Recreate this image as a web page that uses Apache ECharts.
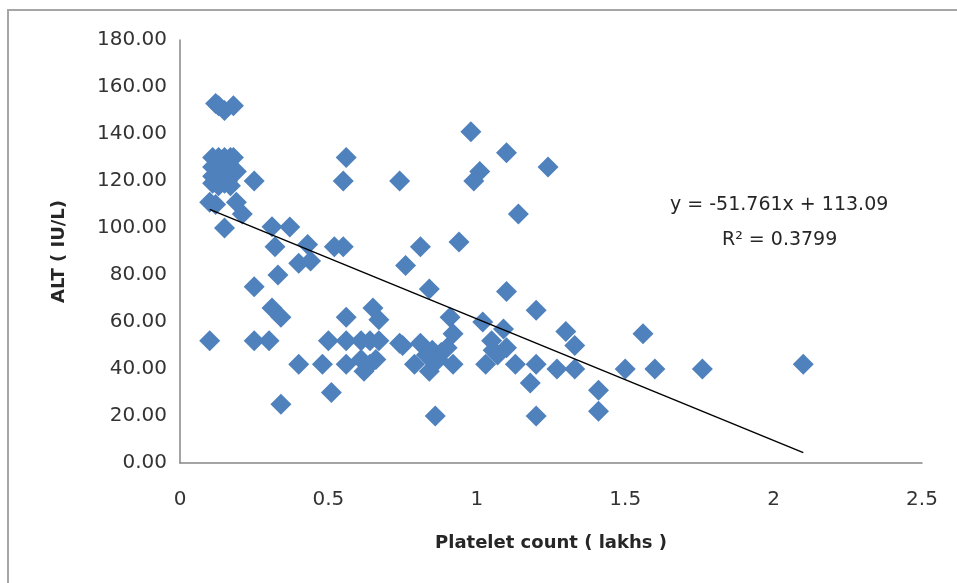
<!DOCTYPE html>
<html>
<head>
<meta charset="utf-8">
<script src="https://cdn.jsdelivr.net/npm/echarts@6/dist/echarts.min.js"></script>
<style>
  html, body { margin: 0; padding: 0; background: #fff; }
  #main { width: 957px; height: 583px; }
</style>
</head>
<body>
<div id="main"></div>
<script>
// platelet count (lakhs) vs ALT (IU/L)
const platelet = [
  0.12, 0.13, 0.15, 0.18,
  0.11, 0.13, 0.15, 0.17, 0.18,
  0.11, 0.13, 0.15, 0.17, 0.19,
  0.11, 0.13, 0.15, 0.16,
  0.11, 0.13, 0.15, 0.17,
  0.25,
  0.10, 0.12, 0.19, 0.21, 0.15,
  0.31, 0.37, 0.32, 0.43, 0.52, 0.55, 0.40, 0.44,
  0.33, 0.25, 0.31, 0.34,
  0.56, 0.55, 0.74,
  0.98, 1.10, 1.24, 1.01, 0.99,
  1.14, 0.94, 0.81, 0.76, 0.84, 1.10, 1.20,
  0.56, 0.65, 0.67, 0.91, 1.02, 1.09, 1.30, 1.33, 0.92,
  0.10, 0.25, 0.30, 0.50, 0.56, 0.61, 0.64, 0.67, 0.74, 0.75,
  0.81, 0.85, 0.88, 0.90, 0.83, 0.87,
  1.05, 1.055, 1.10, 1.07,
  0.40, 0.48, 0.56, 0.61, 0.64, 0.66, 0.62,
  0.79, 0.84, 0.86, 0.92,
  1.03, 1.13, 1.20, 1.27, 1.33, 1.18,
  1.50, 1.60, 1.76, 2.10, 1.56,
  0.51, 0.34, 0.86, 1.20, 1.41, 1.41
];
const alt = [
  153, 152, 150, 152,
  130, 130, 130, 130, 130,
  126, 126, 127, 125, 124,
  122, 121, 122, 120,
  119, 118, 119, 118,
  120,
  111, 110, 111, 106, 100,
  100.5, 100.4, 92, 93, 92, 92, 85, 86,
  80, 75, 66, 62,
  130, 120, 120,
  141, 132, 126, 124, 120,
  106, 94, 92, 84, 74, 73, 65,
  62, 66, 61, 62, 60, 57, 56, 50, 55,
  52, 52, 52, 52, 52, 52, 52, 52, 51, 50,
  51, 48, 47, 49, 46, 44,
  52, 48, 49, 46,
  42, 42, 42, 44, 42, 44, 39,
  42, 39, 43, 42,
  42, 42, 42, 40, 40, 34,
  40, 40, 40, 42, 55,
  30, 25, 20, 20, 31, 22
];
const yTicks = [0, 20, 40, 60, 80, 100, 120, 140, 160, 180];
const slope = -51.761;
const intercept = 113.09;
const rSquared = 0.3799;

const points = platelet.map((x, i) => [x, alt[i]]);
const xMin = Math.min(...platelet);
const xMax = Math.max(...platelet);
const trend = [xMin, xMax].map(x => [x, slope * x + intercept]);

const chart = echarts.init(document.getElementById('main'));
const txt = '#333';

chart.setOption({
  animation: false,
  grid: { left: 180, right: 35, top: 40, bottom: 120 },
  xAxis: {
    type: 'value',
    min: 0, max: 2.5, interval: 0.5,
    name: 'Platelet count ( lakhs )',
    nameLocation: 'middle',
    nameGap: 71,
    nameTextStyle: { fontFamily: 'DejaVu Sans', fontSize: 18, fontWeight: 'bold', color: '#262626' },
    axisLine: { lineStyle: { color: '#868686', width: 1.5 } },
    axisTick: { show: false },
    splitLine: { show: false },
    axisLabel: { fontFamily: 'DejaVu Sans', fontSize: 20, color: txt, margin: 27 }
  },
  yAxis: {
    type: 'value',
    min: yTicks[0], max: yTicks[yTicks.length - 1], interval: 20,
    name: 'ALT ( IU/L)',
    nameLocation: 'middle',
    nameGap: 112,
    nameRotate: 90,
    nameTextStyle: { fontFamily: 'DejaVu Sans', fontSize: 18, fontWeight: 'bold', color: '#262626' },
    axisLine: { show: true, lineStyle: { color: '#868686', width: 1.5 } },
    axisTick: { show: false },
    splitLine: { show: false },
    axisLabel: {
      fontFamily: 'DejaVu Sans', fontSize: 20, color: txt, margin: 13,
      formatter: v => v.toFixed(2)
    }
  },
  series: [
    {
      type: 'scatter',
      data: points,
      symbol: 'diamond',
      symbolSize: 21,
      itemStyle: { color: '#4F81BD', opacity: 1 },
      z: 2
    },
    {
      type: 'line',
      data: trend,
      symbol: 'none',
      lineStyle: { color: '#000', width: 1.5 },
      z: 3
    }
  ],
  graphic: [
    {
      type: 'rect',
      shape: { x: 8, y: 10, width: 1000, height: 1000 },
      style: { fill: 'none', stroke: '#a6a6a6', lineWidth: 2 },
      silent: true
    },
    {
      type: 'text',
      left: 670, top: 196,
      style: {
        text: 'y = ' + slope + 'x + ' + intercept.toFixed(2),
        font: '19px "DejaVu Sans"', fill: '#262626'
      }
    },
    {
      type: 'text',
      left: 722, top: 231,
      style: {
        text: 'R² = ' + rSquared,
        font: '19px "DejaVu Sans"', fill: '#262626'
      }
    }
  ]
});
</script>
</body>
</html>
